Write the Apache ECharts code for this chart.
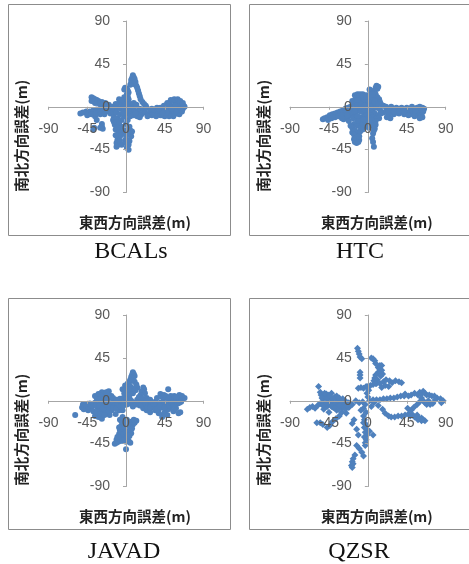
<!DOCTYPE html>
<html><head><meta charset="utf-8">
<style>html,body{margin:0;padding:0;background:#fff;overflow:hidden}#c{width:469px;height:564px}</style>
<script src="https://cdn.jsdelivr.net/npm/echarts@6/dist/echarts.min.js"></script>
</head><body><div id="c"></div>
<script>
const receivers = ['BCALs','HTC','JAVAD','QZSR'];
const xTitle = '東西方向誤差(m)';
const yTitle = '南北方向誤差(m)';
const bcals = [[8,33],[9,31],[7,30],[10,29],[6,28],[8,27],[11,26],[6,25],[9,24],[12,22],[5,23],[13,20],[-1,20],[1,19],[-2,18],[2,17],[14,17],[3,15],[15,14],[1,13],[2,11],[16,11],[0,9],[3,8],[17,8],[-1,6],[1,5],[19,5],[-2,3],[21,3],[0,2],[23,1],
[3,-2],[6,-5],[8,0],[10,-4],[12,2],[14,-6],[16,-2],[18,-8],[20,-3],[22,-6],[24,-1],[26,-8],[28,-4],[30,-2],[32,-8],[34,-5],[36,-1],[38,-7],[40,-3],[42,-9],[44,-5],[46,-1],[48,-8],[50,-3],[52,1],[54,-5],[56,-2],[58,4],[60,-7],[62,0],[64,3],[66,-2],[68,0],[55,6],[58,6],[60,5],[63,-3],[65,1],[61,3],[57,1],[53,-8],[49,-5],[45,-3],[47,2],[51,-1],[56,-8],[60,-3],[67,1],[33,-3],[40,-1],[50,3],[43,-2],[37,-4],[4,-8],[9,-9],[13,-10],
[55,-10],[50,-10],[45,-10],[40,-9],[35,-10],[30,-9],[25,-10],[62,-8],[65,-5],[52,7],[56,8],[60,8],[63,6],[66,4],[48,4],[44,1],[58,-5],[53,-2],[47,-6],[42,-6],[38,-2],[3,3],[6,3],[9,4],[-2,10],[3,-7],[0,-5],[-3,-2],[11,-7],[16,-11],
[-40,10],[-38,9],[-36,8],[-34,7],[-32,6],[-28,5],[-24,4],[-20,2],[-16,0],[-12,0],[-53,-7],[-50,-6],[-46,-5],[-42,-5],[-38,-4],[-34,-3],[-30,-2],[-26,-5],[-22,-1],[-18,-3],[-14,-2],[-10,-1],[-6,-2],[-2,-1],[-4,3],[-8,4],[-36,-10],[-34,-14],[-30,-8],[-28,-18],[-28,-21],[-27,-23],[-30,-22],[-38,-24],[-37,-22],
[-45,-9],[-40,-8],[-35,-7],[-30,-5],[-25,-8],[-20,-5],[-15,-6],[-12,3],[-8,8],[-5,7],[-26,1],[-22,-3],[-30,3],[-33,4],[-36,4],[-40,6],[-18,-7],[-14,-11],[-11,-6],
[-15,-14],[-13,-19],[-12,-24],[-10,-12],[-9,-28],[-10,-35],[-11,-38],[-11,-42],[-9,-40],[-8,-32],[-5,-21],[-5,-14],[-2,-10],[0,-18],[2,-14],[-1,-25],[2,-28],[6,-31],[5,-25],[4,-36],[3,-40],[3,-45],[1,-43],[-1,-35],[0,-30],[4,-21],[-7,-8],[-3,-6],[5,-10],
[-14,-16],[-11,-16],[-8,-18],[-7,-23],[-10,-22],[-4,-27],[-6,-30],[-12,-30],[-7,-36],[-5,-40],[0,-38],[2,-35],[5,-28],[7,-26],[3,-22]];
const htc = [[10,22],[12,21],[9,20],[11,19],[2,18],[3,17],[8,17],[7,14],[9,13],[11,10],[13,8],[-15,12],[-12,13],[-9,13],[-6,13],[-3,12],[0,12],[3,11],[6,10],[-14,9],[-10,9],[-6,9],[-2,9],[2,8],[6,7],[10,6],[14,5],[-18,6],[-14,5],[-10,5],[-6,5],[-2,5],[2,4],[6,3],[10,2],[15,3],[18,1],
[21,0],[24,-2],[27,0],[30,-3],[33,-1],[36,-3],[39,-1],[42,-4],[45,-1],[48,-3],[51,0],[54,-2],[57,-1],[60,0],[63,-1],[65,-2],[64,-5],[62,-8],[60,-5],[58,-9],[56,-6],[54,-10],[50,-5],[52,-8],[48,-7],[45,-6],[42,-8],[39,-5],[36,-7],[33,-6],[30,-8],[27,-5],[24,-8],[21,-5],[18,-6],[55,-4],[63,-11],[60,-12],[47,-9],[26,-12],[22,-11],
[-52,-13],[-50,-12],[-47,-11],[-44,-9],[-41,-8],[-38,-7],[-35,-6],[-32,-5],[-29,-4],[-26,-2],[-23,-1],[-20,0],[-46,-14],[-42,-12],[-38,-11],[-34,-10],[-30,-9],[-26,-8],[-22,-6],[-18,-3],[-28,-13],[-24,-12],[-20,-9],[-22,-15],[-17,-12],[-14,-8],[-10,-4],[-6,-1],[-2,1],[2,0],[6,-2],[10,-1],[14,-3],[-14,-2],[-10,1],[-16,-18],[-12,-15],[-8,-11],[-4,-8],[0,-5],[4,-6],[8,-7],[12,-9],[15,-7],
[24,-5],[30,-5],[36,-5],[42,-5],[-25,-5],[-20,-4],[-15,-5],[-12,-10],[-8,-5],[-4,-3],[0,-1],[3,-9],[6,-11],[10,-12],[13,-12],[-4,-17],[-8,-16],[-12,-20],[-10,-15],[-2,-10],[2,-16],[-6,-24],[-12,-27],[-10,-35],[-16,-34],[-18,-27],[-15,-37],[9,-15],[-20,-20],[-24,-9],[-30,-12],[-16,3],[-12,2],[-8,2],[-4,1],[-4,8],[0,7],[4,7],[8,5],[12,3],[-10,11],[-6,11],[-2,11],[2,11],[5,13],[-12,7],
[-18,-22],[-15,-25],[-16,-29],[-14,-33],[-13,-38],[-11,-37],[-10,-31],[-9,-26],[-8,-22],[-6,-18],[-3,-14],[1,-12],[4,-14],[7,-17],[9,-19],[8,-23],[6,-28],[7,-25],[5,-20],[5,-33],[6,-37],[7,-42],[-2,-20],[1,-22],[-5,-13]];
const javad = [[8,30],[9,28],[7,27],[10,26],[6,25],[8,23],[5,22],[4,20],[2,18],[-1,16],[1,14],[10,20],[12,17],[13,14],[11,11],[8,8],[0,11],[-2,8],[2,6],[4,3],[-3,3],[0,1],[6,0],[9,-2],[13,1],[20,14],[21,12],[18,10],[22,8],[17,6],[24,3],[15,4],[19,2],
[-59,-15],[-51,-7],[-49,-9],[-50,-4],[-46,-6],[-44,-10],[-42,-3],[-40,-7],[-38,-11],[-36,5],[-36,-2],[-34,3],[-33,-7],[-32,7],[-30,0],[-30,-10],[-28,9],[-27,4],[-26,-3],[-25,-12],[-24,6],[-23,0],[-22,-7],[-20,10],[-20,3],[-18,-3],[-19,-15],[-17,-10],[-15,-1],[-13,-5],[-10,-2],[-7,2],[-5,-4],[-2,-2],[-36,-16],[-32,-17],[-28,-19],[-12,-14],[-8,-10],[-4,-10],[-22,8],[-30,6],[-20,-11],[-28,-5],[-17,5],
[-40,-5],[-44,-6],[-47,-4],[-35,-5],[-31,-5],[-27,-8],[-23,-4],[-19,-7],[-15,-8],[-11,-8],[-7,-6],[-3,-5],[-34,-12],[-30,-14],[-25,-15],[-24,2],[-20,6],[-28,1],[-33,1],[-23,9],[-15,3],[-11,1],
[23,-1],[26,-4],[28,1],[30,-3],[32,-7],[34,-1],[36,-5],[38,-9],[40,-2],[42,-7],[44,2],[45,-12],[46,5],[47,-4],[49,12],[49,-9],[50,-1],[52,5],[52,-6],[54,1],[55,-11],[56,5],[57,-3],[58,-8],[60,3],[61,-13],[63,-12],[62,6],[64,-1],[66,2],[68,3],[65,5],[48,-15],[42,-17],[44,-14],[38,-13],[16,-5],[20,-8],[24,-10],[28,-12],[34,-10],[40,7],[42,4],[36,3],
[4,-3],[8,-6],[12,-4],[15,-2],[18,-4],[22,-3],[25,-7],[28,-7],[32,-3],[36,-9],[40,-6],[45,-2],[45,-7],[50,-5],[53,-2],[55,-4],[58,0],[60,-3],[62,-2],[58,4],[49,3],[44,6],
[12,-21],[10,-23],[8,-25],[6,-22],[5,-28],[3,-24],[1,-20],[-2,-22],[-4,-17],[-6,-27],[-7,-31],[-8,-35],[-10,-38],[-11,-41],[-13,-45],[-11,-44],[-9,-43],[-7,-39],[-5,-34],[-3,-30],[-1,-36],[1,-40],[3,-42],[5,-44],[4,-37],[2,-32],[6,-34],[0,-26],[-3,-40],[0,-51],
[-7,-20],[-5,-22],[-8,-28],[-6,-33],[-3,-35],[0,-33],[0,-43],[-6,-42],[-2,-27],[2,-26],[3,-36],[7,-29],[-9,-38],[-4,-42],[2,-37],[9,-20],[1,-4],[1,8],[5,8],[7,13],[5,15],[3,12],[-4,12]];
const qzsr = [[-12,55],[-11,52],[-10,49],[-9,46],[-7,44],[-9,30],[-9,27],[-9,24],[4,45],[6,44],[8,42],[9,39],[12,35],[14,37],[16,37],[14,33],[16,32],[12,30],[17,28],[9,27],[15,26],[8,24],[11,22],[7,21],[10,18],
[-11,13],[-8,14],[-5,13],[-2,15],[0,15],[3,16],[6,17],[9,18],[14,18],[18,20],[21,22],[25,21],[28,19],[32,21],[36,20],[39,19],[20,16],[24,15],[16,14],[-1,8],[1,11],[0,4],
[2,0],[6,1],[10,1],[14,1],[18,2],[22,2],[26,3],[30,3],[34,4],[38,5],[42,5],[47,5],[43,7],[50,6],[54,8],[58,6],[60,9],[62,7],[64,10],[66,8],[68,6],[71,6],[74,5],[77,5],[80,3],[84,2],[87,0],[85,-2],[62,3],[64,0],[66,-2],[68,-4],[70,0],[72,-4],[75,-3],[78,1],[60,-1],
[24,-16],[27,-17],[31,-17],[35,-16],[39,-16],[43,-15],[47,-14],[50,-10],[53,-7],[57,-4],[46,-8],[49,-16],[52,-15],[54,-17],[57,-15],[59,-18],[62,-18],[64,-20],[66,-21],[62,-21],[58,-20],[20,-13],[17,-9],[12,-5],[7,-2],[4,-6],
[-70,-9],[-67,-7],[-64,-6],[-61,-8],[-58,-5],[-57,15],[-55,9],[-54,6],[-52,2],[-50,-3],[-48,7],[-47,-6],[-45,3],[-44,-3],[-42,8],[-41,-1],[-40,-7],[-38,4],[-37,-3],[-35,1],[-34,-6],[-32,-2],[-30,-8],[-29,2],[-27,-4],[-25,-1],[-22,-2],[-18,-4],[-14,0],[-10,-2],[-6,-1],[-3,-4],[-46,6],[-43,1],[-39,-4],[-50,4],[-30,-12],[-25,-13],[-36,-10],[-45,-12],[-51,-9],[-59,-23],[-55,-23],[-52,-25],[-47,-28],[-44,-26],[-41,-22],[-37,-19],[-33,-16],
[-53,3],[-50,8],[-47,2],[-44,5],[-40,2],[-36,5],[-33,3],[-30,-2],[-28,-6],[-42,-6],[-38,-8],[-34,-9],[-26,-9],[-22,-7],[-55,-3],[-52,-5],[-48,-2],[-33,-5],[-24,-5],
[-5,-8],[-8,-10],[-2,-12],[-5,-16],[-4,-20],[-5,-23],[-2,-25],[-4,-28],[-1,-30],[-3,-33],[-1,-36],[-4,-38],[-2,-41],[-3,-44],[-3,-47],[6,-36],[2,-32],[-18,-24],[-16,-20],[-13,-30],[-11,-36],[-13,-47],[-10,-50],[-7,-54],[-5,-58],[-15,-57],[-17,-61],[-18,-64],[-19,-68],[-18,-70],[-17,-66]];
const seriesData = [bcals, htc, javad, qzsr];

const layouts = [
 {l:48.5,t:21,w:155,h:171.5,bx:8.5,by:4.5,bw:222,bh:231,cap:126,capY:235,sym:'circle',sz:6},
 {l:290,t:21,w:155.7,h:171.5,bx:249.5,by:4.5,bw:240,bh:231,cap:355,capY:235,sym:'circle',sz:6},
 {l:48.5,t:315,w:155,h:171.5,bx:8.5,by:298.5,bw:222,bh:231,cap:119,capY:535,sym:'circle',sz:6},
 {l:290,t:315,w:155.7,h:171.5,bx:249.5,by:298.5,bw:240,bh:231,cap:354,capY:535,sym:'diamond',sz:7}
];
const lineC = '#a6a6a6', textC = '#595959';
const chart = echarts.init(document.getElementById('c'), null, {renderer:'canvas'});
const axisBase = (i) => ({
  type:'value', gridIndex:i, min:-90, max:90, interval:45, z:3,
  splitLine:{show:false},
  axisLine:{onZero:false, lineStyle:{color:lineC,width:1}},
  axisTick:{length:3, inside:false, lineStyle:{color:lineC}},
  axisLabel:{color:textC, fontSize:14, fontFamily:'"Liberation Sans",Arial,sans-serif', showMinLabel:true, showMaxLabel:true},
  nameLocation:'middle',
  nameTextStyle:{color:'#222', fontSize:14.5, fontWeight:'bold', fontFamily:'"Noto Sans CJK JP",sans-serif'}
});
chart.setOption({
  animation:false, backgroundColor:'#fff',
  title: layouts.map((p,i)=>({text:receivers[i], left:p.cap, top:p.capY, textAlign:'center',
    textStyle:{fontFamily:'"Liberation Serif",serif', fontSize:24, fontWeight:'normal', color:'#111'}})),
  graphic: layouts.map(p=>({type:'rect', silent:true, z:-1, shape:{x:p.bx,y:p.by,width:p.bw,height:p.bh},
    style:{fill:'#fff',stroke:'#8c8c8c',lineWidth:1}})),
  grid: layouts.map(p=>({left:p.l, top:p.t, width:p.w, height:p.h, containLabel:false, outerBoundsMode:'none'})),
  xAxis: layouts.map((p,i)=>{const a=axisBase(i); a.position='bottom'; a.offset=-p.h/2; a.axisLabel.margin=15; a.name=xTitle; a.nameGap=108; a.nameTextStyle.padding=[0,0,0,18]; return a;}),
  yAxis: layouts.map((p,i)=>{const a=axisBase(i); a.position='left'; a.offset=-p.w/2; a.axisLabel.margin=16; a.name=yTitle; a.nameGap=97; a.nameTextStyle.padding=[0,58,0,0]; return a;}),
  series: seriesData.map((d,i)=>({type:'scatter', xAxisIndex:i, yAxisIndex:i, data:d,
    symbol:layouts[i].sym, symbolSize:layouts[i].sz, itemStyle:{color:'#4f81bd',opacity:1}, silent:true}))
});
</script></body></html>
